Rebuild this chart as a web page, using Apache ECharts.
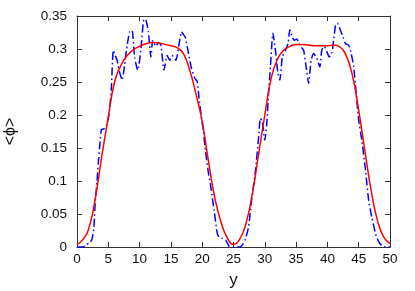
<!DOCTYPE html>
<html>
<head>
<meta charset="utf-8">
<script src="https://cdn.jsdelivr.net/npm/echarts@6/dist/echarts.min.js"></script>
<style>html,body{margin:0;padding:0;background:#fff}#c{width:415px;height:291px}</style>
</head>
<body>
<div id="c"></div>
<script>
const xTicks = [0, 5, 10, 15, 20, 25, 30, 35, 40, 45, 50];
const yTicks = [0, 0.05, 0.1, 0.15, 0.2, 0.25, 0.3, 0.35];

const redX = [0,1,2,3,4,5,6,7,8,9,10,11,12,13,14,15,16,17,18,19,20,21,22,23,24,25,26,27,28,29,30,31,32,33,34,35,36,37,38,39,40,41,42,43,44,45,46,47,48,49,50];
const redY = [0.004,0.012,0.032,0.078,0.14,0.197,0.25,0.275,0.29,0.299,0.304,0.308,0.31,0.309,0.307,0.305,0.302,0.293,0.268,0.232,0.19,0.13,0.075,0.038,0.014,0.004,0.012,0.036,0.08,0.14,0.2,0.255,0.284,0.298,0.304,0.307,0.307,0.306,0.305,0.305,0.305,0.306,0.303,0.29,0.26,0.207,0.145,0.085,0.04,0.015,0.005];

const blueX = [0,0.5,1.0,1.5,2.0,2.4,2.7,2.9,3.2,3.4,3.7,3.9,4.3,4.6,5.0,5.2,5.5,5.8,6.1,6.4,6.8,7.2,7.6,7.9,8.4,8.8,9.2,9.7,10.2,10.7,11.0,11.4,11.8,12.1,12.6,13.0,13.4,13.9,14.4,14.8,15.2,15.8,16.3,16.7,17.0,17.3,17.8,18.3,18.8,19.2,19.5,19.9,20.2,20.5,21.0,21.3,21.9,22.4,22.7,23.2,23.8,24.3,25,26,26.5,26.9,27.4,27.9,28.5,29.0,29.3,29.6,30.0,30.3,30.6,30.9,31.3,31.7,32.1,32.4,32.8,33.3,33.7,34.0,34.4,34.7,35.1,35.7,36.2,36.6,37.0,37.4,37.8,38.3,38.8,39.1,39.5,39.9,40.3,40.7,41.0,41.3,41.6,42.1,42.5,42.9,43.4,43.8,44.2,44.6,45.0,45.5,46.1,46.6,47.1,47.7,48.2,48.7,49.3,50];
const blueY = [0,0,0,0.004,0.006,0.012,0.03,0.066,0.1,0.127,0.16,0.178,0.179,0.181,0.195,0.207,0.243,0.298,0.29,0.283,0.265,0.253,0.275,0.298,0.326,0.328,0.288,0.268,0.298,0.345,0.344,0.326,0.288,0.313,0.304,0.31,0.306,0.268,0.29,0.283,0.29,0.283,0.307,0.326,0.322,0.318,0.294,0.27,0.256,0.251,0.225,0.195,0.175,0.147,0.112,0.096,0.056,0.021,0.015,0.013,0.01,0.001,0,0,0.004,0.012,0.03,0.071,0.115,0.165,0.195,0.19,0.162,0.185,0.233,0.273,0.324,0.298,0.263,0.253,0.288,0.298,0.308,0.329,0.318,0.313,0.315,0.304,0.298,0.273,0.248,0.283,0.293,0.286,0.273,0.298,0.304,0.296,0.288,0.293,0.313,0.336,0.339,0.328,0.318,0.308,0.306,0.293,0.273,0.233,0.192,0.162,0.115,0.07,0.045,0.02,0.008,0.002,0,0];

const xLabel = 'y';
const yLabel = '<ϕ>';

const chart = echarts.init(document.getElementById('c'), null, {renderer: 'canvas'});
const font = 'Liberation Sans';
const frame = '#333';
const baseAxis = {
  type: 'value',
  axisLine: {show: true, onZero: false, lineStyle: {color: frame, width: 1}},
  axisTick: {show: true, inside: true, length: 5, lineStyle: {color: frame}},
  splitLine: {show: false}
};
chart.setOption({
  animation: false,
  backgroundColor: '#fff',
  grid: {left: 77, right: 25, top: 16, bottom: 44, containLabel: false, outerBoundsMode: 'none'},
  xAxis: [
    Object.assign({}, baseAxis, {
      position: 'bottom', min: xTicks[0], max: xTicks[xTicks.length-1], interval: xTicks[1]-xTicks[0],
      name: xLabel, nameLocation: 'middle', nameGap: 25,
      nameTextStyle: {fontFamily: font, fontSize: 17, color: '#111'},
      axisLabel: {fontFamily: font, fontSize: 13.5, color: '#111', margin: 5}
    }),
    Object.assign({}, baseAxis, {
      position: 'top', min: xTicks[0], max: xTicks[xTicks.length-1], interval: xTicks[1]-xTicks[0],
      axisLabel: {show: false}
    })
  ],
  yAxis: [
    Object.assign({}, baseAxis, {
      position: 'left', min: yTicks[0], max: yTicks[yTicks.length-1], interval: 0.05,
      name: yLabel, nameLocation: 'middle', nameGap: 58, nameRotate: 90,
      nameTextStyle: {fontFamily: font, fontSize: 16, color: '#111'},
      axisLabel: {fontFamily: font, fontSize: 13.5, color: '#111', margin: 10,
        formatter: v => String(Math.round(v*100)/100)}
    }),
    Object.assign({}, baseAxis, {
      position: 'right', min: yTicks[0], max: yTicks[yTicks.length-1], interval: 0.05,
      axisLabel: {show: false}
    })
  ],
  series: [
    {
      type: 'line', xAxisIndex: 0, yAxisIndex: 0, showSymbol: false, smooth: 0.2,
      data: blueX.map((x, i) => [x, blueY[i]]),
      lineStyle: {color: '#0000ff', width: 1.5, type: [8, 3, 1.5, 3]},
      z: 2
    },
    {
      type: 'line', xAxisIndex: 0, yAxisIndex: 0, showSymbol: false, smooth: true,
      data: redX.map((x, i) => [x, redY[i]]),
      lineStyle: {color: '#ff0000', width: 1.5},
      z: 3
    }
  ]
});
</script>
</body>
</html>
